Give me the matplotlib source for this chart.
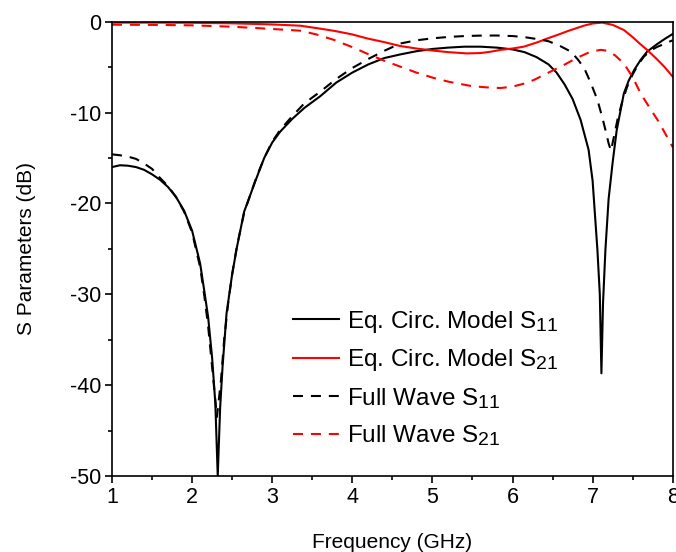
import matplotlib
matplotlib.use("Agg")
import matplotlib.pyplot as plt
from matplotlib.ticker import MultipleLocator
try:
    import matplotlib._mathtext as _mt
    _mt.SHRINK_FACTOR = 0.8
except Exception:
    pass

plt.rcParams['font.family'] = ['Liberation Sans', 'DejaVu Sans']
plt.rcParams['mathtext.fontset'] = 'custom'
plt.rcParams['mathtext.rm'] = 'Liberation Sans'
plt.rcParams['mathtext.it'] = 'Liberation Sans'
plt.rcParams['axes.unicode_minus'] = False

# Equivalent circuit model S11
f_m11 = [1.0, 1.1, 1.2, 1.3, 1.4, 1.5, 1.6, 1.7, 1.8, 1.9, 2.0, 2.1, 2.15, 2.2, 2.25, 2.29,
         2.32, 2.35, 2.38, 2.43, 2.5, 2.56, 2.65, 2.8, 2.9, 3.0, 3.1, 3.25, 3.4, 3.6, 3.8,
         4.0, 4.2, 4.4, 4.6, 4.8, 5.0, 5.2, 5.4, 5.6, 5.8, 6.0, 6.15, 6.3, 6.45, 6.55, 6.65,
         6.75, 6.85, 6.95, 7.0, 7.06, 7.09, 7.11, 7.13, 7.16, 7.2, 7.25, 7.3, 7.39, 7.45,
         7.52, 7.6, 7.68, 7.8, 7.9, 8.0]
s_m11 = [-16.0, -15.8, -15.85, -16.0, -16.3, -16.8, -17.4, -18.2, -19.3, -20.8, -23.0, -26.6,
         -29.5, -32.5, -37.0, -42.0, -50.0, -42.5, -38.0, -32.1, -27.8, -24.8, -20.9, -17.3,
         -15.0, -13.3, -12.1, -10.7, -9.5, -8.2, -6.7, -5.6, -4.7, -4.0, -3.6, -3.25, -3.0,
         -2.85, -2.75, -2.75, -2.85, -3.05, -3.35, -3.9, -4.7, -5.6, -6.9, -8.5, -10.8,
         -14.1, -17.5, -25.1, -30.0, -38.7, -31.0, -25.1, -19.5, -15.5, -12.0, -7.9, -6.5,
         -5.3, -4.2, -3.3, -2.5, -1.9, -1.35]

# Equivalent circuit model S21
f_m21 = [1.0, 1.5, 2.0, 2.5, 2.8, 3.0, 3.35, 3.55, 3.77, 4.0, 4.18, 4.4, 4.6, 4.8, 5.0, 5.2,
         5.43, 5.6, 5.73, 5.85, 6.0, 6.14, 6.3, 6.45, 6.56, 6.7, 6.89, 7.0, 7.12, 7.25, 7.39,
         7.5, 7.6, 7.68, 7.8, 7.9, 8.0]
s_m21 = [-0.1, -0.1, -0.12, -0.18, -0.25, -0.3, -0.44, -0.7, -1.0, -1.4, -1.83, -2.25, -2.68,
         -2.95, -3.17, -3.35, -3.49, -3.45, -3.3, -3.1, -2.95, -2.75, -2.3, -1.8, -1.46, -1.0,
         -0.44, -0.2, -0.1, -0.35, -0.91, -1.7, -2.5, -3.1, -4.1, -5.0, -6.05]

# Full wave S11
f_w11 = [1.0, 1.1, 1.2, 1.3, 1.4, 1.5, 1.6, 1.7, 1.8, 1.9, 2.0, 2.1, 2.15, 2.2, 2.25, 2.31,
         2.36, 2.4, 2.45, 2.5, 2.56, 2.65, 2.8, 2.9, 3.0, 3.1, 3.25, 3.4, 3.6, 3.8, 4.0, 4.2,
         4.4, 4.6, 4.8, 5.0, 5.2, 5.4, 5.6, 5.8, 6.0, 6.15, 6.3, 6.45, 6.6, 6.73, 6.82, 6.9,
         6.98, 7.06, 7.12, 7.16, 7.2, 7.23, 7.27, 7.31, 7.37, 7.43, 7.5, 7.57, 7.64, 7.72,
         7.8, 7.93, 8.0]
s_w11 = [-14.6, -14.7, -14.85, -15.1, -15.6, -16.2, -17.2, -18.1, -19.3, -20.9, -23.2, -27.0,
         -30.0, -33.5, -38.0, -43.5, -39.5, -35.0, -31.0, -27.8, -24.7, -21.0, -17.2, -15.0,
         -13.2, -11.9, -10.4, -9.0, -7.7, -6.3, -5.1, -4.1, -3.2, -2.4, -2.05, -1.83, -1.68,
         -1.58, -1.53, -1.52, -1.58, -1.7, -1.9, -2.15, -2.7, -3.3, -4.2, -5.2, -6.8, -8.6,
         -10.5, -11.9, -13.4, -14.2, -12.5, -10.8, -8.8, -7.2, -5.8, -4.7, -3.85, -3.2, -2.8,
         -2.3, -2.05]

# Full wave S21
f_w21 = [1.0, 1.5, 2.0, 2.5, 2.8, 3.0, 3.35, 3.55, 3.77, 4.0, 4.18, 4.4, 4.6, 4.8, 5.02, 5.2,
         5.35, 5.5, 5.68, 5.85, 6.0, 6.15, 6.27, 6.45, 6.64, 6.8, 6.975, 7.1, 7.18, 7.28,
         7.39, 7.5, 7.6, 7.7, 7.81, 7.9, 8.0]
s_w21 = [-0.33, -0.35, -0.4, -0.55, -0.7, -0.8, -0.99, -1.4, -2.0, -2.8, -3.5, -4.3, -4.95,
         -5.6, -6.2, -6.6, -6.86, -7.1, -7.23, -7.3, -7.15, -6.8, -6.4, -5.6, -4.77, -4.0,
         -3.3, -3.1, -3.19, -3.7, -4.6, -6.1, -7.9, -9.3, -10.8, -12.2, -13.8]

labels = ["Eq. Circ. Model S$_{11}$", "Eq. Circ. Model S$_{21}$",
          "Full Wave S$_{11}$", "Full Wave S$_{21}$"]

fig = plt.figure(figsize=(6.76, 5.52), dpi=100)
ax = fig.add_axes([112/676, 1-476/552, 560.7/676, 454.3/552])

lw = 1.5
dash = (0, (4.8, 3.8))
ax.plot(f_m11, s_m11, color='black', lw=lw, label=labels[0])
ax.plot(f_m21, s_m21, color='#ff0000', lw=lw, label=labels[1])
ax.plot(f_w11, s_w11, color='black', lw=lw, ls=dash, label=labels[2])
ax.plot(f_w21, s_w21, color='#ff0000', lw=lw, ls=dash, label=labels[3])

ax.set_xlim(1, 8)
ax.set_ylim(-50, 0)
ax.xaxis.set_major_locator(MultipleLocator(1))
ax.xaxis.set_minor_locator(MultipleLocator(0.5))
ax.yaxis.set_major_locator(MultipleLocator(10))
ax.yaxis.set_minor_locator(MultipleLocator(5))
ax.tick_params(which='both', direction='out', top=False, right=False, width=1.2)
ax.tick_params(which='major', length=5, labelsize=15.5, pad=3)
ax.tick_params(which='minor', length=3)
for s in ax.spines.values():
    s.set_linewidth(1.2)

ax.set_xlabel("Frequency (GHz)", fontsize=15, labelpad=18)
ax.set_ylabel("S Parameters (dB)", fontsize=15, labelpad=24)

ax.legend(loc='upper left', bbox_to_anchor=(0.305, 0.39), frameon=False, fontsize=17.5,
          handlelength=1.9, handletextpad=0.33, labelspacing=0.52, borderaxespad=0)

fig.savefig("out.png", dpi=100)
